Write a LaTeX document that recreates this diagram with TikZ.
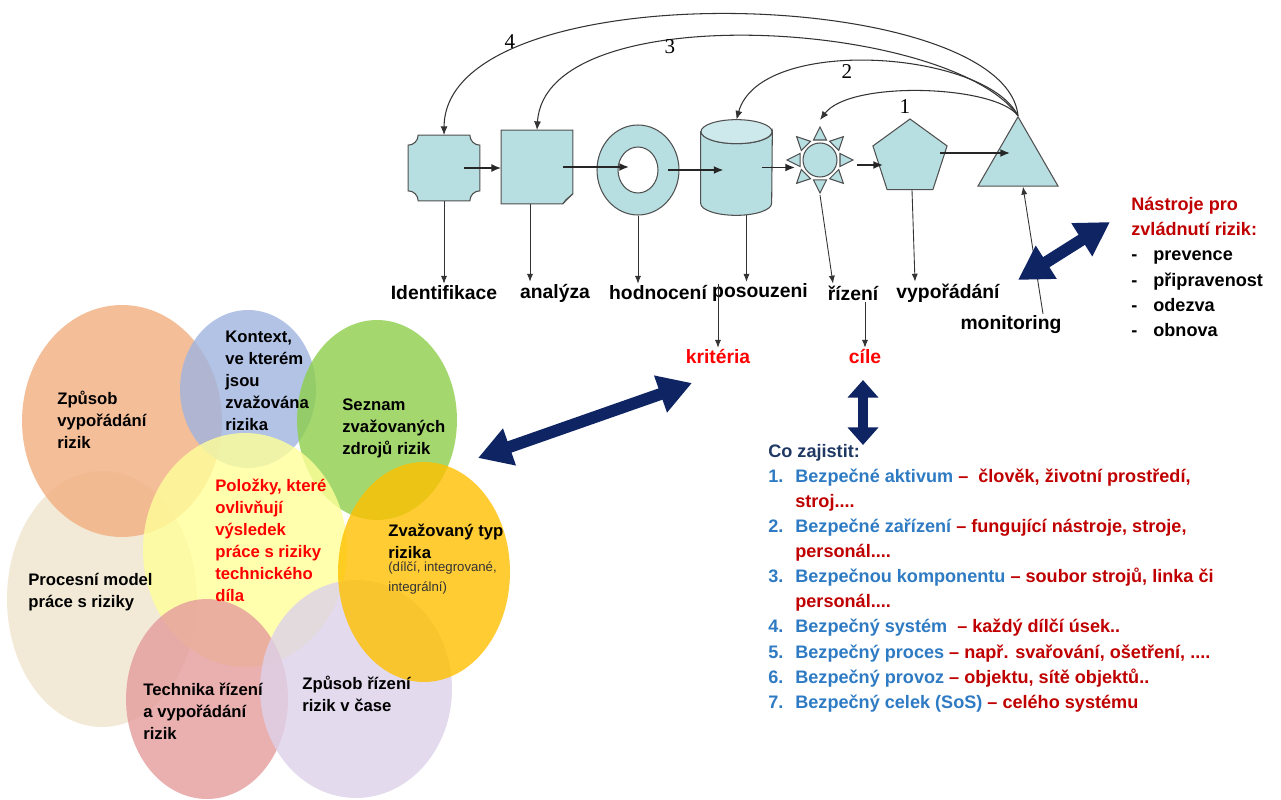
\documentclass[tikz,border=0pt]{standalone}
\usepackage{fontspec}
\setmainfont{Liberation Sans}
\newfontfamily\numfont{Liberation Serif}
\usepackage{xcolor}
\usetikzlibrary{shapes, arrows.meta, positioning}

\definecolor{shpfill}{HTML}{B7DEE1}
\definecolor{shptop}{HTML}{CDE9EB}
\definecolor{shpline}{HTML}{505050}
\definecolor{navy}{HTML}{0F2463}
\definecolor{czblue}{HTML}{2E7BC4}
\definecolor{czred}{HTML}{C00000}
\definecolor{cznavy}{HTML}{1F3864}
\definecolor{cOrange}{HTML}{F2AE80}
\definecolor{cBlue}{HTML}{9FB5E0}
\definecolor{cGreen}{HTML}{8ECF4C}
\definecolor{cYellow}{HTML}{FFFF99}
\definecolor{cGold}{HTML}{FFC000}
\definecolor{cBeige}{HTML}{EFE5CC}
\definecolor{cPink}{HTML}{E59C9C}
\definecolor{cLav}{HTML}{DDD1EA}

\newcommand{\itemno}[1]{\makebox[0.54cm][l]{#1}}
\newcommand{\bulletdash}{\makebox[0.44cm][l]{-}}

\begin{document}
\begin{tikzpicture}[
            x=0.02cm, y=-0.02cm,
            shp/.style={draw=shpline, fill=shpfill, line width=0.6pt},
            flow/.style={-{Latex[length=5.5pt,width=4.5pt]}, line width=0.9pt, black!85},
            dn/.style={-{Latex[length=4.5pt,width=3.5pt]}, line width=0.5pt, black!80},
            back/.style={-{Latex[length=5pt,width=4pt]}, line width=0.6pt, black!80},
            lbl/.style={font=\bfseries\fontsize{11}{13}\selectfont, inner sep=1pt},
            num/.style={font=\numfont\fontsize{12}{14}\selectfont, inner sep=0pt},
            blob/.style={ellipse, inner sep=0pt, fill opacity=0.8},
            btxt/.style={font=\bfseries\fontsize{9.5}{12.5}\selectfont, align=left, anchor=west, inner sep=0pt},
            note/.style={font=\fontsize{7.5}{11}\selectfont, align=left, inner sep=0pt, text=black!80},
            lst/.style={font=\bfseries\fontsize{10.3}{14.3}\selectfont, align=left, anchor=west, inner sep=0pt},
            dbl/.style={draw=navy, line width=6.8pt, {Triangle[length=19pt 0 0,width=21pt 0 0]}-{Triangle[length=19pt 0 0,width=21pt 0 0]}},
            dbls/.style={draw=navy, line width=5.6pt, {Triangle[length=10pt 0 0,width=17pt 0 0]}-{Triangle[length=10pt 0 0,width=17pt 0 0]}}
        ]
            \fill[white] (0,0) rectangle (1281,800);
            \useasboundingbox (0,0) rectangle (1281,800);

            % left cluster
            \node[blob, fill=cBeige, minimum width=3.8cm, minimum height=5.12cm] (eBei) at (102,599) {};
            \node[blob, fill=cOrange, minimum width=4cm, minimum height=4.64cm] (eOra) at (122,421) {};
            \node[blob, fill=cBlue, minimum width=2.72cm, minimum height=3.16cm] (eBlu) at (248,389) {};
            \node[blob, fill=cGreen, minimum width=3.2cm, minimum height=4cm] (eGre) at (377,420) {};
            \node[blob, fill=cYellow, minimum width=4.08cm, minimum height=4.68cm] (eYel) at (245,550) {};
            \node[blob, fill=cPink, minimum width=3.24cm, minimum height=4cm] (ePin) at (207,699) {};
            \node[blob, fill=cLav, minimum width=3.84cm, minimum height=4.36cm] (eLav) at (356,689) {};
            \node[blob, fill=cGold, minimum width=3.44cm, minimum height=4.4cm] (eGol) at (424,572) {};

            \node[btxt] (tZp) at (57,420) {Způsob\\vypořádání\\rizik};
            \node[btxt] (tKo) at (225,381) {Kontext,\\ve kterém\\jsou\\zvažována\\rizika};
            \node[btxt] (tSe) at (342,428) {Seznam\\zvažovaných\\zdrojů rizik};
            \node[btxt, text=red] (tPo) at (215,540) {Položky, které\\ovlivňují\\výsledek\\práce s riziky\\technického\\díla};
            \node[btxt] (tZv) at (388,541) {Zvažovaný typ\\rizika};
            \node[note, below right=0.06cm and 0cm of tZv.south west] (tZvN) {(dílčí, integrované,\\integrální)};
            \node[btxt] (tPr) at (28,592) {Procesní model\\práce s riziky};
            \node[btxt] (tTe) at (143,711) {Technika řízení\\a vypořádání\\rizik};
            \node[btxt] (tZr) at (302,694) {Způsob řízení\\rizik v čase};

            % process shapes
            \node[minimum width=1.42cm, minimum height=1.3cm, inner sep=0pt] (oct) at (444,168) {};
            \draw[shp] ([xshift=0.2cm]oct.north west) -- ([xshift=-0.2cm]oct.north east)
                .. controls ([xshift=-0.2cm,yshift=-0.11cm]oct.north east) and ([xshift=-0.11cm,yshift=-0.2cm]oct.north east) .. ([yshift=-0.2cm]oct.north east)
                -- ([yshift=0.2cm]oct.south east)
                .. controls ([xshift=-0.11cm,yshift=0.2cm]oct.south east) and ([xshift=-0.2cm,yshift=0.11cm]oct.south east) .. ([xshift=-0.2cm]oct.south east)
                -- ([xshift=0.2cm]oct.south west)
                .. controls ([xshift=0.2cm,yshift=0.11cm]oct.south west) and ([xshift=0.11cm,yshift=0.2cm]oct.south west) .. ([yshift=0.2cm]oct.south west)
                -- ([yshift=-0.2cm]oct.north west)
                .. controls ([xshift=0.11cm,yshift=-0.2cm]oct.north west) and ([xshift=0.2cm,yshift=-0.11cm]oct.north west) .. cycle;

            \node[minimum width=1.42cm, minimum height=1.46cm, inner sep=0pt] (sq) at (537,167) {};
            \draw[shp] (sq.north west) -- (sq.north east) -- ([yshift=0.2cm]sq.south east)
                -- ([xshift=-0.2cm]sq.south east) -- (sq.south west) -- cycle;
            \draw[shp] ([yshift=0.2cm]sq.south east) -- ([xshift=-0.14cm,yshift=0.08cm]sq.south east)
                -- ([xshift=-0.2cm]sq.south east);

            \node[shp, ellipse, minimum width=1.64cm, minimum height=1.8cm, inner sep=0pt] (don) at (638,170) {};
            \node[ellipse, draw=shpline, line width=0.6pt, fill=white, minimum width=0.8cm, minimum height=0.92cm, inner sep=0pt] (hole) at (don.center) {};

            \node[minimum width=1.42cm, minimum height=1.9cm, inner sep=0pt] (cyl) at (736.5,167.5) {};
            \draw[shp] ([yshift=-0.24cm]cyl.north west) -- ([yshift=0.24cm]cyl.south west)
                arc[start angle=180, end angle=0, x radius=35.5, y radius=12]
                -- ([yshift=-0.24cm]cyl.north east)
                arc[start angle=0, end angle=180, x radius=35.5, y radius=12] -- cycle;
            \draw[shp, fill=shptop] ([yshift=-0.24cm]cyl.north) ellipse[x radius=35.5, y radius=12];

            \node[shp, circle, minimum size=0.68cm, inner sep=0pt] (sun) at (820,160) {};
            \foreach \a in {0,45,...,315}
                \draw[shp, shift={(sun.center)}] (\a+18:21) -- (\a:33) -- (\a-18:21) -- cycle;

            \node[shp, regular polygon, regular polygon sides=5, minimum size=1.56cm, inner sep=0pt] (pent) at (910,158) {};
            \node[shp, regular polygon, regular polygon sides=3, minimum size=1.85cm, inner sep=0pt] (tri) at (1018,163) {};

            \draw[flow] ([xshift=0.4cm]oct.center) -- (oct.center -| sq.west);
            \draw[flow] ([xshift=0.52cm]sq.center) -- ([xshift=-0.18cm]sq.center -| don.center);
            \draw[flow] ([xshift=0.6cm]don.center) -- ([xshift=-0.26cm]don.center -| cyl.center);
            \draw[flow] ([xshift=0.5cm]cyl.center) -- ([xshift=-0.5cm]cyl.center -| sun.center);
            \draw[flow] ([xshift=0.74cm,yshift=-0.1cm]sun.center) -- ([xshift=-0.54cm,yshift=-0.1cm]sun.center -| pent.center);
            \draw[flow] ([xshift=0.6cm,yshift=0.1cm]pent.center) -- ([xshift=-0.16cm,yshift=0.1cm]pent.center -| tri.center);

            % feedback loops
            \draw[back] (tri.corner 1) .. controls (995,85) and (850,80) .. ([yshift=0.8cm]sun.center);
            \draw[back] (tri.corner 1) .. controls (985,50) and (760,35) .. (cyl.north);
            \draw[back] (tri.corner 1) .. controls (950,20) and (545,-5) .. (sq.north);
            \draw[back] (tri.corner 1) .. controls (1005,-15) and (445,-30) .. (oct.north);
            \node[num] (n1) at (905,107) {1};
            \node[num] (n2) at (847,72) {2};
            \node[num] (n3) at (670,47) {3};
            \node[num] (n4) at (510,42) {4};

            % step labels
            \node[lbl] (lIde) at (444,293) {Identifikace};
            \node[lbl] (lAna) at (555,293) {analýza};
            \node[lbl] (lHod) at (658,293) {hodnocení};
            \node[lbl] (lPos) at (760,293) {posouzeni};
            \node[lbl] (lRiz) at (853,293) {řízení};
            \node[lbl] (lVyp) at (948,293) {vypořádání};
            \node[lbl] (lMon) at (1011,325) {monitoring};
            \node[lbl, text=red] (lKrit) at (718,357) {kritéria};
            \node[lbl, text=red] (lCil) at (865,357) {cíle};

            \draw[dn] (oct.south) -- (lIde.north);
            \draw[dn] ([xshift=-0.14cm]sq.south) -- ([xshift=-0.14cm]sq.south |- lAna.north);
            \draw[dn] (don.south) -- (don.south |- lHod.north);
            \draw[dn] ([xshift=0.2cm]cyl.south) -- ([xshift=0.2cm]cyl.south |- lPos.north);
            \draw[dn] ([yshift=-0.7cm]sun.center) -- ([xshift=-0.4cm]lRiz.north);
            \draw[dn] ([xshift=0.04cm]pent.south) -- ([xshift=0.1cm]pent.south |- lVyp.north);
            \draw[dn] ([xshift=0.64cm]lMon.north) -- ([xshift=0.1cm]tri.south);
            \draw[dn] (lKrit.north |- lHod.north) -- (lKrit.north);
            \draw[dn] (lCil.north |- lRiz.south) -- (lCil.north);

            % side texts
            \node[lst] (cz) at (768,578) {\textcolor{cznavy}{Co zajistit:}\\
                \textcolor{czblue}{\itemno{1.}Bezpečné aktivum} \textcolor{czred}{–\ \ člověk, životní prostředí,}\\
                \itemno{}\textcolor{czred}{stroj....}\\
                \textcolor{czblue}{\itemno{2.}Bezpečné zařízení} \textcolor{czred}{– fungující nástroje, stroje,}\\
                \itemno{}\textcolor{czred}{personál....}\\
                \textcolor{czblue}{\itemno{3.}Bezpečnou komponentu} \textcolor{czred}{– soubor strojů, linka či}\\
                \itemno{}\textcolor{czred}{personál....}\\
                \textcolor{czblue}{\itemno{4.}Bezpečný systém} \ \textcolor{czred}{– každý dílčí úsek..}\\
                \textcolor{czblue}{\itemno{5.}Bezpečný proces} \textcolor{czred}{– např. svařování, ošetření, ....}\\
                \textcolor{czblue}{\itemno{6.}Bezpečný provoz} \textcolor{czred}{– objektu, sítě objektů..}\\
                \textcolor{czblue}{\itemno{7.}Bezpečný celek (SoS)} \textcolor{czred}{– celého systému}};
            \node[lst] (nas) at (1131,267) {\textcolor{czred}{Nástroje pro}\\
                \textcolor{czred}{zvládnutí rizik:}\\
                \bulletdash prevence\\
                \bulletdash připravenost\\
                \bulletdash odezva\\
                \bulletdash obnova};

            % links
            \coordinate (a1) at (478,458);
            \coordinate (a2) at (692,383);
            \coordinate (b1) at (863,380);
            \coordinate (b2) at (863,445);
            \coordinate (c1) at (1018,280);
            \coordinate (c2) at (1110,222);
            \draw[dbl] (a1) -- (a2);
            \draw[dbls] (b1) -- (b2);
            \draw[dbl] (c1) -- (c2);
        \end{tikzpicture}
\end{document}
